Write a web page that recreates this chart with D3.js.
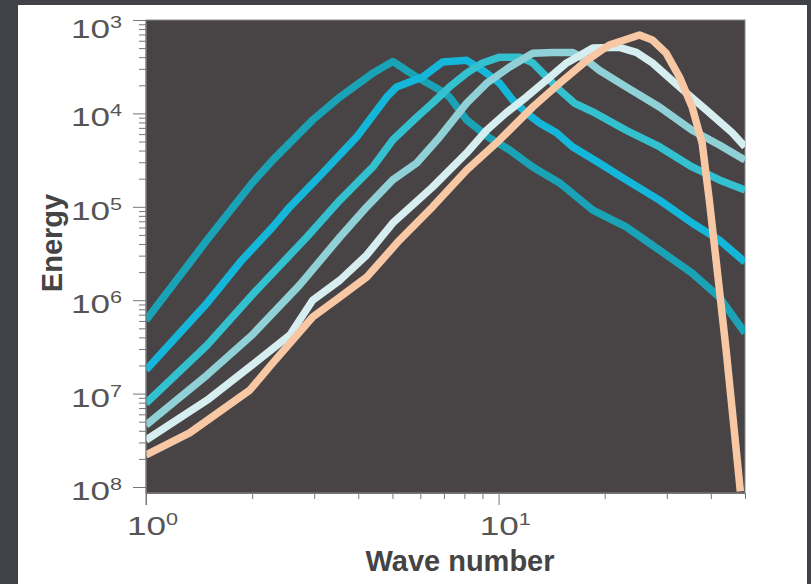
<!DOCTYPE html>
<html>
<head>
<meta charset="utf-8">
<script src="https://cdn.jsdelivr.net/npm/d3@7"></script>
<style>
  html, body { margin: 0; padding: 0; background: #414247; }
  svg { display: block; }
</style>
</head>
<body>
<svg id="chart" width="811" height="584"></svg>
<script>
// ---- data (wave number, energy) ----
const series1 = [[1,6.1e-7],[1.49,4.4e-6],[2.0,1.8e-5],[2.29,3.17e-5],[2.97,8.5e-5],[3.55,1.5e-4],[4.40,2.7e-4],[5.01,3.6e-4],[5.86,2.45e-4],[6.81,1.78e-4],[7.26,1.5e-4],[8.12,8.5e-5],[9.43,5.45e-5],[10.75,4.06e-5],[12.5,2.67e-5],[14.9,1.8e-5],[18.5,9.2e-6],[23.0,6.1e-6],[28.6,3.44e-6],[35.4,1.95e-6],[42.3,1.08e-6],[50,4.45e-7]];
const series2 = [[1,1.79e-7],[1.49,9.3e-7],[1.85,2.56e-6],[2.29,6.1e-6],[2.56,1.0e-5],[3.17,2.3e-5],[3.96,5.6e-5],[4.82,1.5e-4],[5.14,1.92e-4],[6.09,2.45e-4],[6.94,3.55e-4],[8.12,3.7e-4],[9.01,2.9e-4],[10.07,2.1e-4],[10.96,1.39e-4],[12.0,1.01e-4],[13.07,7.9e-5],[14.6,6.2e-5],[16.2,4.4e-5],[19.3,2.94e-5],[23.0,1.94e-5],[28.6,1.18e-5],[35.4,6.7e-6],[42.3,4.4e-6],[50,2.56e-6]];
const series3 = [[1,7.9e-8],[1.49,3.3e-7],[2.0,1.14e-6],[2.86,4.75e-6],[3.55,1.18e-5],[4.40,2.67e-5],[5.01,5.2e-5],[5.86,9.1e-5],[6.5,1.29e-4],[7.26,1.92e-4],[8.12,2.7e-4],[9.01,3.47e-4],[10.07,4.0e-4],[11.47,4.0e-4],[12.5,3.47e-4],[13.7,2.45e-4],[14.9,1.78e-4],[16.4,1.29e-4],[18.5,1.04e-4],[23.0,6.6e-5],[28.6,4.4e-5],[35.4,2.67e-5],[42.3,1.94e-5],[50,1.51e-5]];
const series4 = [[1,4.6e-8],[1.49,1.58e-7],[2.0,4.24e-7],[2.73,1.46e-6],[3.55,4.75e-6],[4.23,1.0e-5],[5.01,1.94e-5],[5.86,2.94e-5],[6.81,5.6e-5],[8.12,1.29e-4],[9.25,2.1e-4],[10.75,3.14e-4],[12.5,4.4e-4],[14.2,4.5e-4],[16.2,4.5e-4],[17.8,3.7e-4],[19.3,2.9e-4],[23.0,1.92e-4],[28.6,1.17e-4],[35.4,6.6e-5],[42.3,4.59e-5],[50,3.17e-5]];
const series5 = [[1,3.18e-8],[1.49,8.5e-8],[2.0,2.02e-7],[2.56,4.24e-7],[2.97,1.0e-6],[3.55,1.64e-6],[4.23,3.05e-6],[5.01,6.7e-6],[6.5,1.63e-5],[8.12,3.77e-5],[9.25,6.6e-5],[10.5,1.01e-4],[12.0,1.5e-4],[13.7,2.28e-4],[15.6,3.47e-4],[18.5,5.0e-4],[22.0,5.1e-4],[24.6,4.5e-4],[27.3,3.47e-4],[32.6,1.92e-4],[38.8,1.09e-4],[46.0,6.2e-5],[50,4.4e-5]];
const series6 = [[1,2.2e-8],[1.33,3.8e-8],[1.97,1.09e-7],[2.29,2.13e-7],[2.97,6.6e-7],[3.55,1.08e-6],[4.23,1.77e-6],[5.24,4.4e-6],[6.5,1.0e-5],[8.12,2.48e-5],[10.07,5.2e-5],[12.5,1.17e-4],[14.9,2.1e-4],[17.8,3.7e-4],[20.6,5.4e-4],[25.1,6.9e-4],[27.3,6.1e-4],[29.9,4.4e-4],[32.6,2.45e-4],[35.4,1.17e-4],[37.8,4.8e-5],[39.6,1.18e-5],[41.7,2.1e-6],[44.2,2.93e-7],[46.3,5.2e-8],[48.5,9e-9]];
const seriesList = [series1, series2, series3, series4, series5, series6];
const seriesColors = ["#1aa3b6", "#14b6d9", "#33c0cf", "#8fd1d6", "#d6eef0", "#f8c8a4"];

const yTickValues = [1e-3, 1e-4, 1e-5, 1e-6, 1e-7, 1e-8];
const yTickExponents = ["3", "4", "5", "6", "7", "8"];
const xTickValues = [1, 10];
const xTickExponents = ["0", "1"];
const xTitle = "Wave number";
const yTitle = "Energy";

(function draw() {
  const svg = d3.select("#chart");
  const pLeft = 146, pRight = 745, pTop = 20, pBottom = 493;
  const yBottomDecade = 487;

  svg.append("rect").attr("x", 18).attr("y", 5).attr("width", 789).attr("height", 579).attr("fill", "#ffffff");

  const x = d3.scaleLog().domain([1, 50]).range([pLeft, pRight]);
  const y = d3.scaleLog().domain([1e-8, 1e-3]).range([yBottomDecade, pTop]);

  svg.append("rect").attr("x", pLeft).attr("y", pTop).attr("width", pRight - pLeft).attr("height", pBottom - pTop)
    .attr("fill", "#484344").attr("stroke", "#8a8a8a").attr("stroke-width", 1);

  svg.append("clipPath").attr("id", "clip").append("rect")
    .attr("x", pLeft).attr("y", pTop).attr("width", pRight - pLeft).attr("height", pBottom - pTop);

  const line = d3.line().x(d => x(d[0])).y(d => y(d[1]));
  const g = svg.append("g").attr("clip-path", "url(#clip)");
  seriesList.forEach((s, i) => {
    g.append("path").datum(s).attr("d", line)
      .attr("fill", "none").attr("stroke", seriesColors[i]).attr("stroke-width", 7.5)
      .attr("stroke-linejoin", "round").attr("stroke-linecap", "butt");
  });

  const isDecade = v => Math.abs(Math.log10(v) - Math.round(Math.log10(v))) < 1e-9;
  const yAxis = d3.axisLeft(y).tickValues(y.ticks()).tickFormat("").tickSizeInner(7).tickSizeOuter(0);
  const ya = svg.append("g").attr("transform", `translate(${pLeft},0)`).call(yAxis);
  ya.select(".domain").attr("stroke", "#777").attr("d", `M0,${pTop}V${pBottom + 12}`);
  ya.selectAll(".tick line").attr("stroke", "#777").attr("x2", d => isDecade(d) ? -13 : -7);

  const xAxis = d3.axisBottom(x).tickValues(x.ticks()).tickFormat("").tickSizeInner(6).tickSizeOuter(0);
  const xa = svg.append("g").attr("transform", `translate(0,${pBottom})`).call(xAxis);
  xa.select(".domain").attr("stroke", "#777");
  xa.selectAll(".tick line").attr("stroke", "#777").attr("y2", d => isDecade(d) ? 12 : 6);

  const labelFont = "'Liberation Sans', Arial, Helvetica, sans-serif";
  yTickValues.forEach((v, i) => {
    const yy = Math.max(y(v) + 13, 38);
    const t = svg.append("text")
      .attr("transform", `translate(122,${yy}) scale(1.35,1)`)
      .attr("text-anchor", "end").attr("font-family", labelFont).attr("font-size", 26).attr("fill", "#555");
    t.append("tspan").text("10");
    t.append("tspan").attr("dy", -10).attr("font-size", 16).text(yTickExponents[i]);
  });
  xTickValues.forEach((v, i) => {
    const t = svg.append("text")
      .attr("transform", `translate(${x(v)},535) scale(1.35,1)`)
      .attr("x", -14).attr("text-anchor", "start").attr("font-family", labelFont).attr("font-size", 26).attr("fill", "#555");
    t.append("tspan").text("10");
    t.append("tspan").attr("dy", -10).attr("font-size", 16).text(xTickExponents[i]);
  });

  svg.append("text").attr("x", 460).attr("y", 571).attr("text-anchor", "middle")
    .attr("font-family", labelFont).attr("font-weight", "bold").attr("font-size", 29).attr("fill", "#444")
    .text(xTitle);
  svg.append("text").attr("transform", "translate(62,243) rotate(-90)").attr("text-anchor", "middle")
    .attr("font-family", labelFont).attr("font-weight", "bold").attr("font-size", 29).attr("fill", "#444")
    .text(yTitle);
})();
</script>
</body>
</html>
